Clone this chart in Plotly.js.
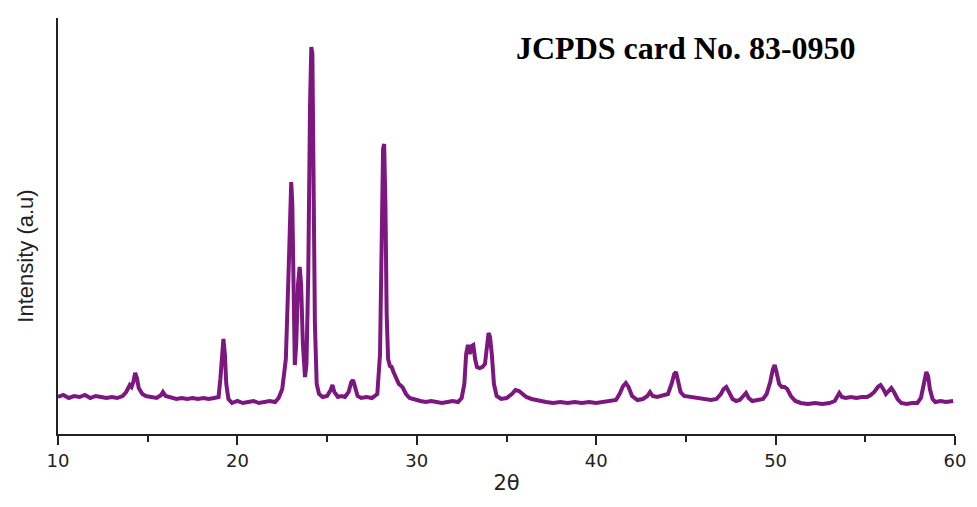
<!DOCTYPE html>
<html>
<head>
<meta charset="utf-8">
<script src="https://cdn.plot.ly/plotly-3.0.1.min.js"></script>
<style>html,body{margin:0;padding:0;background:#fff;}#chart{width:977px;height:507px;}</style>
</head>
<body>
<div id="chart"></div>
<script>
// 2θ positions (degrees)
const twoTheta = [
10.0,10.3,10.6,10.9,11.2,11.5,11.8,12.1,12.4,12.7,13.0,13.3,13.6,13.8,14.0,14.1,14.2,14.3,14.4,14.5,14.7,14.9,
15.2,15.5,15.75,15.85,16.0,16.3,16.6,16.9,17.2,17.5,17.8,18.1,18.4,18.7,18.95,19.05,19.15,19.22,19.3,19.38,19.5,19.7,
20.0,20.3,20.6,20.9,21.2,21.5,21.8,22.1,22.3,22.5,22.7,22.85,22.95,23.0,23.06,23.12,23.2,23.28,23.38,23.47,23.55,23.65,
23.77,23.85,23.95,24.05,24.12,24.18,24.25,24.32,24.42,24.55,24.75,25.0,25.2,25.3,25.4,25.6,25.8,26.0,26.2,26.35,26.45,
26.55,26.7,26.9,27.2,27.5,27.8,27.95,28.05,28.12,28.18,28.25,28.32,28.4,28.5,28.6,28.7,28.85,29.0,29.2,29.4,29.6,29.9,
30.2,30.5,30.8,31.1,31.4,31.7,32.0,32.3,32.5,32.65,32.75,32.85,32.95,33.05,33.15,33.25,33.35,33.5,33.65,33.8,33.9,34.0,
34.08,34.18,34.3,34.45,34.7,35.0,35.3,35.5,35.7,35.9,36.1,36.4,36.8,37.2,37.6,38.0,38.4,38.8,39.2,39.6,40.0,40.4,40.8,
41.1,41.3,41.5,41.65,41.8,42.0,42.3,42.6,42.85,43.0,43.15,43.4,43.7,44.0,44.2,44.35,44.45,44.55,44.7,44.9,45.2,45.5,
45.8,46.1,46.4,46.7,46.95,47.1,47.25,47.4,47.6,47.8,48.0,48.2,48.35,48.5,48.7,49.0,49.3,49.5,49.7,49.85,49.95,50.05,
50.2,50.35,50.5,50.65,50.85,51.1,51.4,51.8,52.2,52.6,53.0,53.3,53.45,53.55,53.7,53.9,54.2,54.5,54.8,55.1,55.3,55.5,
55.7,55.85,56.0,56.15,56.3,56.45,56.6,56.8,57.0,57.3,57.6,57.9,58.1,58.25,58.4,58.5,58.6,58.75,58.9,59.2,59.5,59.9
];
// Intensity (a.u.)
const intensity = [
37,39,36,38,37,39,36,38,37,36,37,36,38,42,49,47,52,61,56,46,40,38,
37,36,39,42,38,36,35,36,35,36,35,36,35,36,37,55,88,95,80,50,35,31,
33,31,32,33,31,32,33,32,36,45,75,160,245,252,230,120,69,90,150,167,150,90,
57,70,160,330,387,380,250,110,50,40,37,38,44,49,42,37,38,37,42,52,54,
47,38,36,37,36,40,80,220,285,290,230,120,75,68,67,62,55,50,47,40,36,34,
33,32,33,32,31,32,33,32,36,50,80,89,80,88,89,75,67,66,67,70,85,101,
97,80,50,38,35,36,40,44,43,40,37,35,33,32,31,32,31,32,31,32,31,32,33,
34,40,48,51,47,38,34,35,38,42,38,37,38,40,50,60,62,55,42,38,37,36,
35,34,34,35,40,45,47,42,35,33,34,38,41,36,33,34,35,40,52,65,69,62,
50,47,47,45,38,33,31,30,31,30,31,33,39,41,37,36,37,36,37,37,39,42,
47,49,45,40,43,46,42,35,31,30,31,31,36,50,62,58,45,35,32,33,32,33
];
const xTickVals = [10,20,30,40,50,60];
const xTickText = ["10","20","30","40","50","60"];
const xLabel = "2θ";
const yLabel = "Intensity (a.u)";
const cardLabel = "JCPDS card No. 83-0950";

const trace = {
  x: twoTheta, y: intensity, type: 'scatter', mode: 'lines',
  line: {color: '#7d1780', width: 4}, hoverinfo: 'x+y'
};

const layout = {
  width: 977, height: 507,
  margin: {l: 58, r: 22, t: 18, b: 73},
  paper_bgcolor: '#ffffff', plot_bgcolor: '#ffffff',
  showlegend: false,
  xaxis: {
    range: [10, 60], autorange: false,
    tickvals: xTickVals, ticktext: xTickText,
    ticks: 'outside', ticklen: 9, tickwidth: 2, tickcolor: '#222',
    minor: {dtick: 5, tick0: 0, ticks: 'outside', ticklen: 6, tickwidth: 2, tickcolor: '#222'},
    showline: true, linecolor: '#222', linewidth: 2,
    showgrid: false, zeroline: false,
    tickfont: {family: 'DejaVu Sans', size: 18, color: '#222'},
    title: {text: xLabel, font: {family: 'DejaVu Sans', size: 21, color: '#222'}, standoff: 6}
  },
  yaxis: {
    range: [0, 416], autorange: false,
    showticklabels: false, ticks: '',
    showline: true, linecolor: '#222', linewidth: 2,
    showgrid: false, zeroline: false
  },
  annotations: [{
    text: yLabel, xref: 'paper', yref: 'paper', textangle: -90,
    x: -0.036, y: 0.428, xanchor: 'center', yanchor: 'middle', showarrow: false,
    font: {family: 'Liberation Sans, Arial', size: 22, color: '#222'}
  }, {
    text: '<b>' + cardLabel + '</b>', xref: 'paper', yref: 'paper',
    x: 0.700, y: 0.928, xanchor: 'center', yanchor: 'middle', showarrow: false,
    font: {family: 'Liberation Serif, Times New Roman', size: 32, color: '#000'}
  }]
};
Plotly.newPlot('chart', [trace], layout, {displayModeBar: false, staticPlot: true});
</script>
</body>
</html>
